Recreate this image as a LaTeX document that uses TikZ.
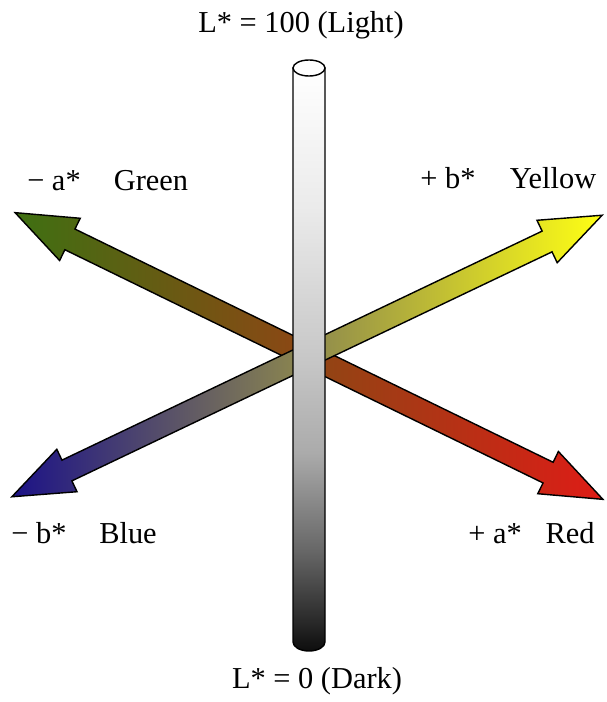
\documentclass[tikz,border=0pt]{standalone}
\usepackage{fontspec}
\setmainfont{Liberation Serif}
\usepackage{tikz}
\usetikzlibrary{positioning}

\definecolor{labgreen}{RGB}{62,112,18}
\definecolor{labbrown}{RGB}{145,84,20}
\definecolor{labred}{RGB}{222,28,22}
\definecolor{labyellow}{RGB}{255,255,20}
\definecolor{labolive}{RGB}{188,188,96}
\definecolor{labblue}{RGB}{28,18,135}

\pgfdeclareverticalshading{lstarshade}{100bp}{color(0bp)=(black!95); color(25bp)=(black!95);
	color(27.5bp)=(black!84); color(33.5bp)=(black!60); color(42bp)=(black!33);
	color(50bp)=(black!22); color(63bp)=(black!8); color(75bp)=(white); color(100bp)=(white)}

\begin{document}
\begin{tikzpicture}
	[x=0.02cm, y=-0.02cm,
	axlabel/.style={anchor=base, inner sep=0pt, font=\fontsize{17.3}{20}\selectfont},
	bigarrow/.style={draw=black, line width=0.8pt, line join=miter}]

	\useasboundingbox (0,0) rectangle (606,702);

	% a* axis: green to red
	\begin{scope}[shift={(309,356)}, rotate=-26]
		\path[bigarrow, left color=labgreen, middle color=labbrown, right color=labred]
			(-327,0) -- (-266,23.5) -- (-266,11.5) -- (266,11.5) -- (266,23.5) -- (327,0)
			-- (266,-23.5) -- (266,-11.5) -- (-266,-11.5) -- (-266,-23.5) -- cycle;
	\end{scope}

	% b* axis: blue to yellow
	\begin{scope}[shift={(307,356)}, rotate=25.5]
		\path[bigarrow, left color=labblue, middle color=labolive, right color=labyellow]
			(-327,0) -- (-266,23.5) -- (-266,11.5) -- (266,11.5) -- (266,23.5) -- (327,0)
			-- (266,-23.5) -- (266,-11.5) -- (-266,-11.5) -- (-266,-23.5) -- cycle;
	\end{scope}

	% L* axis
	\path[draw=black, line width=0.8pt, shading=lstarshade]
		(293,68) -- (293,642) arc[start angle=180, end angle=0, x radius=16, y radius=9]
		-- (325,68) -- cycle;
	\draw[line width=0.8pt, fill=white] (309,68) ellipse [x radius=16, y radius=8];

	\node[axlabel] (light) at (301,33) {L* = 100 (Light)};
	\node[axlabel] (dark) at (317,688) {L* = 0 (Dark)};

	\node[axlabel] (aminus) at (54,191) {− a*};
	\node[axlabel] (green) at (151,191) {Green};
	\node[axlabel] (bplus) at (448,189) {+ b*};
	\node[axlabel] (yellow) at (553,189) {Yellow};

	\node[axlabel] (bminus) at (39,543) {− b*};
	\node[axlabel] (blue) at (128,543) {Blue};
	\node[axlabel] (aplus) at (495,543) {+ a*};
	\node[axlabel] (red) at (570,543) {Red};

\end{tikzpicture}
\end{document}
